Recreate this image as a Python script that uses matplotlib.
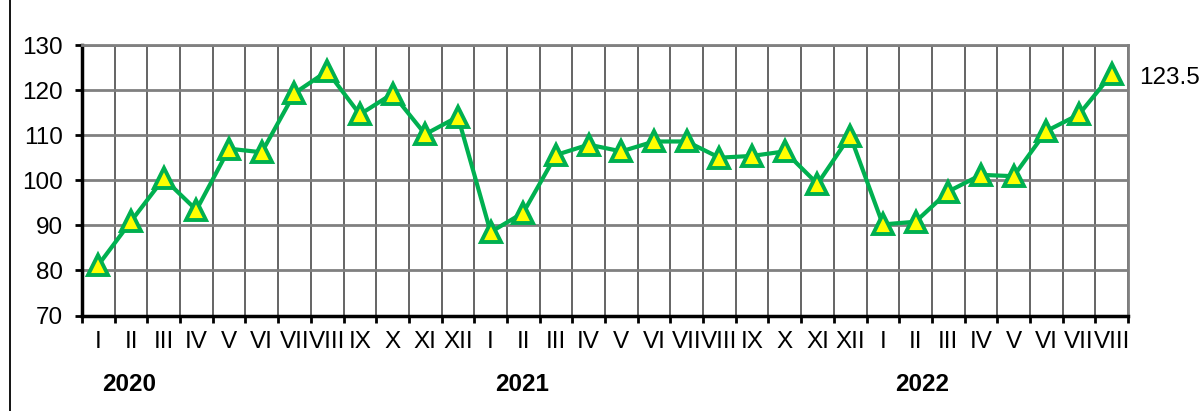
import matplotlib
matplotlib.use("Agg")
import matplotlib.pyplot as plt
import numpy as np

MONTHS = ["I", "II", "III", "IV", "V", "VI", "VII", "VIII", "IX", "X", "XI", "XII"]
YEARS = ["2020", "2021", "2022"]
MONTH_LABELS = MONTHS + MONTHS + MONTHS[:8]
VALUES = [81.2, 90.9, 100.4, 93.4, 107.0, 106.2, 119.3, 124.2, 114.6, 119.2, 110.2, 114.1,
          88.5, 92.8, 105.6, 107.9, 106.4, 108.6, 108.6, 105.0, 105.4, 106.4, 99.2, 109.9,
          90.2, 90.8, 97.5, 101.2, 100.9, 110.9, 114.6, 123.5]
LAST_LABEL = "123.5"

plt.rcParams["font.family"] = ["Liberation Sans", "DejaVu Sans"]
FS = 17.5

fig = plt.figure(figsize=(12.03, 4.11), dpi=100)
ax = fig.add_axes([82 / 1203, 1 - 315.5 / 411, (1128 - 82) / 1203, (315.5 - 45) / 411])

x = np.arange(len(VALUES))
ax.plot(x, VALUES, color="#00B050", lw=3, marker="^", markersize=14,
        markerfacecolor="#FFFF00", markeredgecolor="#00B050", markeredgewidth=2.8,
        zorder=5, clip_on=False)

ax.set_xlim(-0.5, len(VALUES) - 0.5)
ax.set_ylim(70, 130)
ax.set_yticks(range(70, 131, 10))
ax.set_xticks(x)
ax.set_xticklabels(MONTH_LABELS)
ax.set_xticks(np.arange(-0.5, len(VALUES)), minor=True)
ax.tick_params(axis="x", which="major", length=0, pad=11, labelsize=FS)
ax.tick_params(axis="x", which="minor", length=5, width=2, direction="out", color="black")
ax.tick_params(axis="y", length=5, width=2, direction="out", pad=9, labelsize=FS)

ax.grid(axis="y", which="major", color="#808080", lw=2)
ax.grid(axis="x", which="minor", color="#3a3a3a", lw=1.1)
ax.set_axisbelow(True)

for s in ("left", "bottom"):
    ax.spines[s].set_linewidth(2.5)
    ax.spines[s].set_color("black")
for s in ("top", "right"):
    ax.spines[s].set_linewidth(2)
    ax.spines[s].set_color("#808080")

# value label next to the last point
ax.text(len(VALUES) - 0.5 + 0.35, VALUES[-1] - 0.8, LAST_LABEL, fontsize=FS,
        ha="left", va="center")

year_pos = [0.94, 12.97, 25.2]
for xp, yr in zip(year_pos, YEARS):
    ax.annotate(yr, xy=(xp, 0), xycoords=("data", "axes fraction"), xytext=(0, -50),
                textcoords="offset points", ha="center", va="center",
                fontsize=FS, fontweight="bold")

fig.add_artist(plt.Line2D([9.5 / 1203, 9.5 / 1203], [0, 1], color="black", lw=1.3))

fig.savefig("out.png", dpi=100)
